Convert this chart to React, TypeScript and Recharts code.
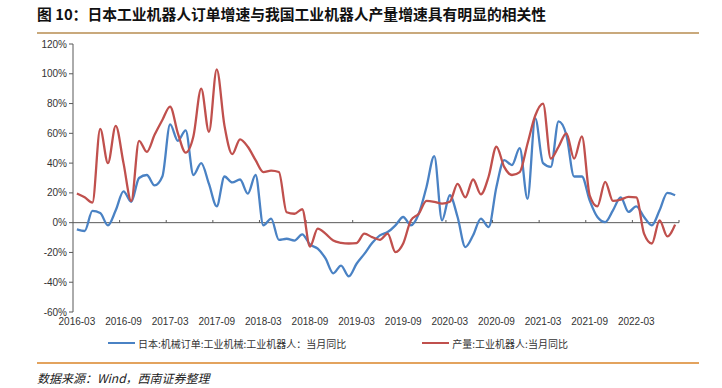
import React from 'react';
import {
  LineChart,
  Line,
  XAxis,
  YAxis,
  ReferenceLine,
  Legend,
} from 'recharts';

// 2016-03 .. 2022-08, monthly
const startYear = 2016;
const startMonth = 3;
const monthCount = 78;

const tickLabels = [
  '2016-03', '2016-09', '2017-03', '2017-09', '2018-03', '2018-09', '2019-03',
  '2019-09', '2020-03', '2020-09', '2021-03', '2021-09', '2022-03',
];

const yTicks = [-60, -40, -20, 0, 20, 40, 60, 80, 100, 120];

// 日本:机械订单:工业机械:工业机器人:当月同比
const japanOrders = [
  -4.5, -5.6, 7.9, 6.5, -1.8, 8.3, 21, 14, 30, 32, 25, 31,
  66, 55, 62, 32, 40, 26, 11, 31, 27, 29, 19.5, 32,
  -1.8, 2.7, -11.5, -10.8, -12, -7.9, -14.6, -17.5, -24, -34, -28.8, -36,
  -27.6, -21, -13.7, -8.5, -6.3, -1.8, 3.8, -1.8, 6, 24, 44.7, 1.6,
  18.4, 3.8, -16.4, -8.5, 2.7, -2.9, 24, 42, 38.7, 50, 16, 70,
  40, 37.5, 68, 59, 31, 31, 15, 3.8, 0.4, 8.3, 17, 7.2,
  11, 3.8, -1.8, 8.3, 20, 18.4,
];

// 产量:工业机器人:当月同比
const chinaOutput = [
  19.6, 17, 13.5, 63, 40, 65, 40, 14.6, 55, 47.6, 59, 69,
  78, 60, 47, 58, 90, 61, 103, 65, 46, 56, 51, 42,
  34, 35, 34, 7, 6, 9, -16, -4, -7.4, -12, -13.5, -14,
  -13.7, -7.4, -9.7, -11.5, -7.4, -19.8, -14, 1.6, 6, 14.6, 14, 12.8,
  14, 26, 17, 29, 19, 31, 51, 37.5, 32, 34, 53, 72,
  80, 43, 51, 60, 43, 58, 18.4, 11, 27.4, 14.6, 15.5, 17.3,
  17, -7.4, -14, 1.6, -9.2, -1.3,
];

const seriesOrder = ['japan', 'china'];

const monthLabel = (i: number) => {
  const m0 = startMonth - 1 + i;
  const y = startYear + Math.floor(m0 / 12);
  const m = (m0 % 12) + 1;
  return `${y}-${m < 10 ? '0' + m : m}`;
};

const data = japanOrders.map((v, i) => ({
  idx: i,
  month: monthLabel(i),
  japan: v,
  china: chinaOutput[i],
}));

const labelTicks = tickLabels.map((_, k) => k * 6);
const boundaryTicks = Array.from({ length: monthCount / 6 }, (_, k) => k * 6 + 5.5);

const BLUE = '#4A82C4';
const RED = '#C0504D';
const AXIS = '#595959';
const FONT = '"Liberation Sans", Arial, "Noto Sans CJK SC", sans-serif';
const CJK = '"Noto Sans CJK SC", "Liberation Sans", sans-serif';

const renderLegend = (props: any) => {
  const payload = [...(props.payload || [])].sort(
    (a: any, b: any) => seriesOrder.indexOf(a.dataKey) - seriesOrder.indexOf(b.dataKey)
  );
  return (
    <div style={{ display: 'flex', paddingLeft: 108, gap: 76, height: 16, fontFamily: CJK, fontSize: 10, color: '#333' }}>
      {payload.map((entry: any) => (
        <div key={entry.value} style={{ display: 'flex', alignItems: 'center' }}>
          <div style={{ width: 27, height: 2.5, backgroundColor: entry.color, marginRight: 3 }} />
          <span>{entry.value}</span>
        </div>
      ))}
    </div>
  );
};

export default function App() {
  return (
    <div style={{ position: 'absolute', left: 0, top: 0, width: 722, height: 388, background: '#fff', overflow: 'hidden' }}>
      <div
        style={{
          position: 'absolute',
          left: 37,
          top: 3,
          fontFamily: CJK,
          fontWeight: 700,
          fontSize: 14.8,
          color: '#111',
          whiteSpace: 'nowrap',
        }}
      >
        图 10：日本工业机器人订单增速与我国工业机器人产量增速具有明显的相关性
      </div>
      <div style={{ position: 'absolute', left: 37, top: 32, width: 662, height: 2, background: '#C9A97C' }} />

      <LineChart
        width={722}
        height={388}
        data={data}
        margin={{ top: 44, right: 43, left: 0, bottom: 40 }}
        style={{ position: 'absolute', left: 0, top: 0 }}
      >
        <XAxis
          dataKey="idx"
          type="number"
          domain={[-0.5, monthCount - 0.5]}
          ticks={labelTicks}
          tickFormatter={(v: number) => monthLabel(v)}
          axisLine={false}
          tickLine={false}
          tickSize={4}
          height={20}
          tick={{ fontSize: 10, fill: '#333', fontFamily: FONT }}
          interval={0}
        />
        <YAxis
          domain={[-60, 120]}
          ticks={yTicks}
          tickFormatter={(v: number) => `${v}%`}
          width={73}
          tickSize={4}
          axisLine={{ stroke: AXIS }}
          tickLine={{ stroke: AXIS }}
          tick={{ fontSize: 10, fill: '#333', fontFamily: FONT }}
          interval={0}
        />
        <ReferenceLine y={0} stroke={AXIS} strokeWidth={1} />
        {boundaryTicks.map((b) => (
          <ReferenceLine
            key={b}
            segment={[{ x: b, y: 0 }, { x: b, y: 1.8 }]}
            stroke={AXIS}
            strokeWidth={1}
          />
        ))}
        <Legend
          verticalAlign="bottom"
          content={renderLegend}
          wrapperStyle={{ left: 0, top: 335, width: 722, height: 16 }}
        />
        <Line
          type="monotone"
          dataKey="japan"
          name="日本:机械订单:工业机械:工业机器人：当月同比"
          stroke={BLUE}
          strokeWidth={2.3}
          dot={false}
          isAnimationActive={false}
        />
        <Line
          type="monotone"
          dataKey="china"
          name="产量:工业机器人:当月同比"
          stroke={RED}
          strokeWidth={2.3}
          dot={false}
          isAnimationActive={false}
        />
      </LineChart>

      <div style={{ position: 'absolute', left: 37, top: 362, width: 662, height: 1.5, background: '#E3A35E' }} />
      <div
        style={{
          position: 'absolute',
          left: 37,
          top: 369,
          fontFamily: CJK,
          fontStyle: 'italic',
          fontSize: 12,
          color: '#222',
          whiteSpace: 'nowrap',
        }}
      >
        数据来源：Wind，西南证券整理
      </div>
    </div>
  );
}
